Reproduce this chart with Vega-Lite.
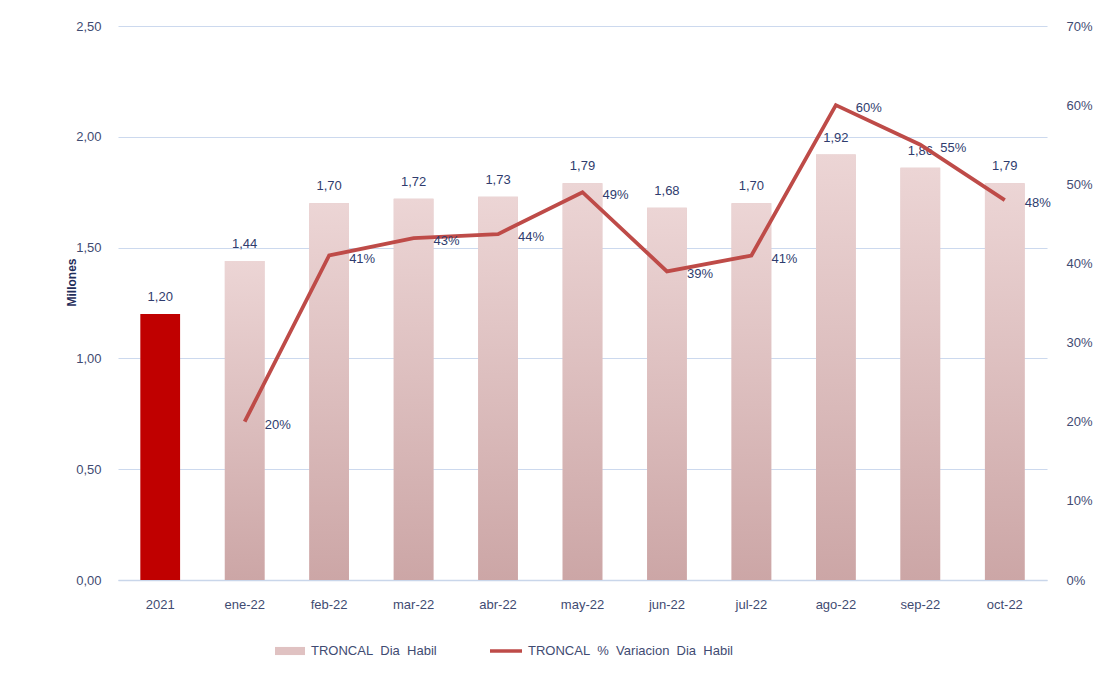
{
  "$schema": "https://vega.github.io/schema/vega-lite/v6.json",
  "width": 929,
  "height": 554,
  "autosize": {"type": "none"},
  "padding": {"left": 118, "top": 26, "right": 60, "bottom": 97},
  "background": "white",
  "config": {
    "locale": {"number": {"decimal": ",", "thousands": ".", "grouping": [3], "currency": ["", " €"]}},
    "font": "Liberation Sans",
    "view": {"stroke": null},
    "axis": {"labelFont": "Liberation Sans", "labelFontSize": 13, "labelColor": "#3f4b72", "ticks": false, "tickSize": 0}
  },
  "data": {
    "values": [
      {"periodo": "2021", "pasajeros": 1.20, "variacion": null},
      {"periodo": "ene-22", "pasajeros": 1.44, "variacion": 0.20},
      {"periodo": "feb-22", "pasajeros": 1.70, "variacion": 0.41},
      {"periodo": "mar-22", "pasajeros": 1.72, "variacion": 0.432},
      {"periodo": "abr-22", "pasajeros": 1.73, "variacion": 0.437},
      {"periodo": "may-22", "pasajeros": 1.79, "variacion": 0.49},
      {"periodo": "jun-22", "pasajeros": 1.68, "variacion": 0.39},
      {"periodo": "jul-22", "pasajeros": 1.70, "variacion": 0.41},
      {"periodo": "ago-22", "pasajeros": 1.92, "variacion": 0.60},
      {"periodo": "sep-22", "pasajeros": 1.86, "variacion": 0.55},
      {"periodo": "oct-22", "pasajeros": 1.79, "variacion": 0.48}
    ]
  },
  "encoding": {
    "x": {
      "field": "periodo", "type": "nominal", "sort": null,
      "scale": {"paddingInner": 0, "paddingOuter": 0},
      "axis": {"title": null, "labelAngle": 0, "labelPadding": 18, "domain": true, "domainColor": "#c9d6ea", "domainWidth": 1.5, "grid": false}
    }
  },
  "layer": [
    {
      "encoding": {
        "y": {
          "field": "pasajeros", "type": "quantitative",
          "scale": {"domain": [0, 2.5], "nice": false, "zero": true},
          "axis": {
            "title": "Millones", "titleFont": "Liberation Sans", "titleFontSize": 12, "titleFontWeight": "bold", "titleColor": "#1f2d5a",
            "titleAngle": -90, "titleX": -47, "titleY": 256, "titleAlign": "center", "titleBaseline": "middle",
            "values": [0, 0.5, 1, 1.5, 2, 2.5], "format": ".2f", "labelPadding": 17, "domain": false,
            "grid": true, "gridColor": "#ccd9ee", "gridWidth": 1.2
          }
        }
      },
      "layer": [
        {
          "mark": {"type": "bar", "width": {"band": 0.47}},
          "encoding": {
            "fill": {
              "datum": "TRONCAL\u00a0 Dia\u00a0 Habil",
              "scale": {"range": ["#e0c2c2"]},
              "legend": {
                "title": null, "orient": "none", "legendX": 157, "legendY": 610,
                "symbolType": "M-1,-0.27H1V0.27H-1Z", "symbolSize": 900, "symbolStrokeWidth": 0,
                "labelFont": "Liberation Sans", "labelFontSize": 13, "labelColor": "#3f4b72", "labelOffset": 6, "labelLimit": 400
              }
            }
          }
        },
        {
          "mark": {"type": "bar", "width": {"band": 0.47}},
          "encoding": {
            "fill": {
              "condition": {"test": "datum.periodo === '2021'", "value": "#C00000"},
              "value": {
                "gradient": "linear", "x1": 0, "y1": 0, "x2": 0, "y2": 1,
                "stops": [{"offset": 0, "color": "#ecd5d5"}, {"offset": 1, "color": "#cca6a6"}]
              }
            }
          }
        },
        {
          "mark": {"type": "text", "baseline": "bottom", "dy": -10, "fontSize": 13, "color": "#2f3c6e", "font": "Liberation Sans"},
          "encoding": {
            "text": {"field": "pasajeros", "type": "quantitative", "format": ".2f"}
          }
        }
      ]
    },
    {
      "transform": [{"filter": "datum.variacion != null"}],
      "encoding": {
        "y": {
          "field": "variacion", "type": "quantitative",
          "scale": {"domain": [0, 0.7], "nice": false, "zero": true},
          "axis": {"orient": "right", "title": null, "values": [0, 0.1, 0.2, 0.3, 0.4, 0.5, 0.6, 0.7], "format": ".0%", "labelPadding": 19, "domain": false, "grid": false}
        }
      },
      "layer": [
        {
          "mark": {"type": "line", "strokeWidth": 3.8, "strokeJoin": "miter"},
          "encoding": {
            "stroke": {
              "datum": "TRONCAL\u00a0 %\u00a0 Variacion\u00a0 Dia\u00a0 Habil",
              "scale": {"range": ["#BE4B48"]},
              "legend": {
                "title": null, "orient": "none", "legendX": 370, "legendY": 607,
                "symbolType": "stroke", "symbolSize": 1024, "symbolStrokeWidth": 3.5,
                "labelFont": "Liberation Sans", "labelFontSize": 13, "labelColor": "#3f4b72", "labelOffset": 4, "labelLimit": 400
              }
            }
          }
        },
        {
          "mark": {"type": "text", "align": "left", "baseline": "middle", "dx": 20, "dy": 3, "fontSize": 13, "color": "#2f3c6e", "font": "Liberation Sans"},
          "encoding": {
            "text": {"field": "variacion", "type": "quantitative", "format": ".0%"}
          }
        }
      ]
    }
  ],
  "resolve": {"scale": {"y": "independent", "fill": "independent", "stroke": "independent"}}
}
